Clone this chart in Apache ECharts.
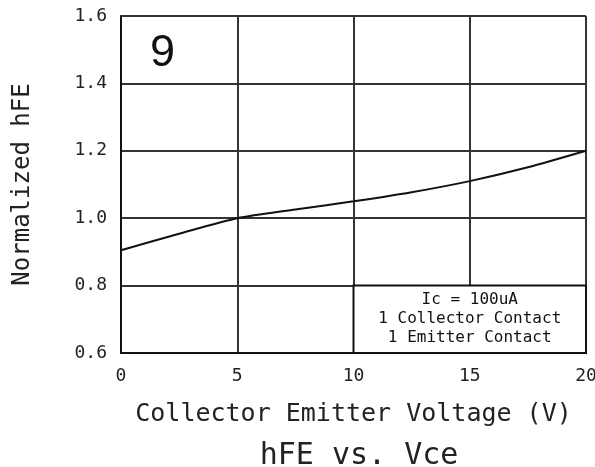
<!DOCTYPE html>
<html>
<head>
<meta charset="utf-8">
<script src="https://cdn.jsdelivr.net/npm/echarts@6/dist/echarts.min.js"></script>
<style>
  html, body { margin: 0; padding: 0; background: #fff; }
  #chart { width: 595px; height: 467px; }
</style>
</head>
<body>
<div id="chart"></div>
<script>
// Collector-emitter voltage (V) and normalized current gain
const vce = [0, 2.5, 5, 7.5, 10, 12.5, 15, 17.5, 20];
const hfe = [0.905, 0.954, 1.0, 1.026, 1.05, 1.077, 1.11, 1.151, 1.2];

const xTicks = [0, 5, 10, 15, 20];
const yTicks = [0.6, 0.8, 1.0, 1.2, 1.4, 1.6];

const noteLines = ['Ic = 100uA', '1 Collector Contact', '1 Emitter Contact'];
const panelNumber = '9';

const mono = '"DejaVu Sans Mono", monospace';

const chart = echarts.init(document.getElementById('chart'), null, { renderer: 'canvas' });

chart.setOption({
  animation: false,
  backgroundColor: '#fff',
  title: {
    text: 'hFE vs. Vce',
    left: 354,
    top: 436,
    textAlign: 'center',
    textStyle: { fontFamily: mono, fontSize: 30, fontWeight: 'normal', color: '#222' }
  },
  grid: { left: 121, right: 9, top: 16, bottom: 114, outerBoundsMode: 'none', containLabel: false },
  xAxis: {
    type: 'value',
    min: 0, max: 20, interval: 5,
    name: 'Collector Emitter Voltage (V)',
    nameLocation: 'middle',
    nameGap: 49,
    nameTextStyle: { fontFamily: mono, fontSize: 25, color: '#222' },
    axisLine: { lineStyle: { color: '#111', width: 2 } },
    axisTick: { show: false },
    axisLabel: { fontFamily: mono, fontSize: 18, color: '#222', margin: 14,
      formatter: v => xTicks.includes(v) ? String(v) : '' },
    splitLine: { show: true, lineStyle: { color: '#333', width: 2 } }
  },
  yAxis: {
    type: 'value',
    min: 0.6, max: 1.6, interval: 0.2,
    name: 'Normalized hFE',
    nameLocation: 'middle',
    nameGap: 86,
    nameRotate: 90,
    nameTextStyle: { fontFamily: mono, fontSize: 24, color: '#222' },
    axisLine: { show: true, lineStyle: { color: '#111', width: 2 } },
    axisTick: { show: false },
    axisLabel: { fontFamily: mono, fontSize: 18, color: '#222', margin: 14,
      formatter: v => {
        const t = yTicks.find(k => Math.abs(k - v) < 1e-6);
        return t === undefined ? '' : t.toFixed(1);
      } },
    splitLine: { show: true, lineStyle: { color: '#333', width: 2 } }
  },
  graphic: [{
    type: 'text',
    left: 150, top: 31,
    style: { text: panelNumber, font: '45px "Liberation Sans", Arial, sans-serif', fill: '#111' }
  }],
  series: [{
    type: 'line',
    data: vce.map((x, i) => [x, hfe[i]]),
    smooth: 0.25,
    showSymbol: false,
    lineStyle: { color: '#111', width: 2 },
    markArea: {
      silent: true,
      itemStyle: { color: '#fff', borderColor: '#111', borderWidth: 2 },
      label: {
        show: true,
        position: 'inside',
        fontFamily: mono,
        fontSize: 16,
        lineHeight: 19,
        color: '#111',
        formatter: noteLines.join('\n')
      },
      data: [[{ coord: [10, 0.8] }, { coord: [20, 0.6] }]]
    }
  }]
});
</script>
</body>
</html>
